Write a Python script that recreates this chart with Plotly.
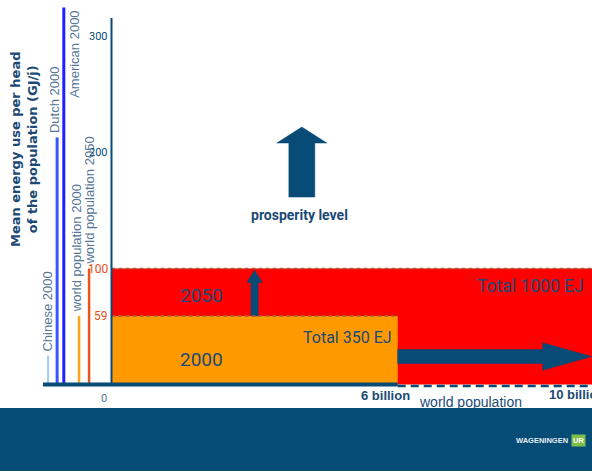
import plotly.graph_objects as go

# --- data -------------------------------------------------------------
categories = ["Chinese 2000", "Dutch 2000", "American 2000",
              "world population 2000", "world population 2050"]
energy_per_head = [25, 213, 325, 59, 100]          # GJ per head per year
population_2000 = 6                                 # billion people
population_2050 = 10                                # billion people
level_2000 = 59                                     # GJ per head, world mean 2000
level_2050 = 100                                    # GJ per head, world mean 2050
total_2000 = "Total 350 EJ"
total_2050 = "Total 1000 EJ"
y_tick_values = [300, 200, 100, 59]
y_tick_labels = ["300", "200", "100", "59"]

# --- layout / styling ---------------------------------------------------
W, H = 592, 471
X_RANGE = [-2.3375, 10.073]
Y_RANGE = [-74.57, 331.5]
line_x = [-1.33, -1.14, -1.0, -0.68, -0.47]        # where the reference lines stand
line_colors = ["#9fcbf5", "#3a55ff", "#2020ff", "#ffa21a", "#e8561a"]
line_widths = [2, 3, 3, 2.5, 2.5]
label_dx = [-1, -2, 10, -3, 0]                      # pixel nudges for the line labels

NAVY = "#074b76"
TEXT_NAVY = "#1b4a75"
GREY_BLUE = "#557696"
TICK_ORANGE = "#e8501a"
RED = "#ff0000"
ORANGE = "#ff9900"
DASH_BROWN = "#a8603c"
NARROW = "Roboto, Liberation Sans, sans-serif"
SANS = "Liberation Sans, Arial, sans-serif"
WIDE = "DejaVu Sans, Verdana, sans-serif"


def block_arrow(x0, y0, x1, y1, shaft_half, head_half, head_len, vertical):
    """Polygon outline of a filled block arrow from (x0, y0) to tip (x1, y1)."""
    if vertical:
        hb = y1 - head_len
        xs = [x0 - shaft_half, x0 - shaft_half, x0 - head_half, x0,
              x0 + head_half, x0 + shaft_half, x0 + shaft_half, x0 - shaft_half]
        ys = [y0, hb, hb, y1, hb, hb, y0, y0]
    else:
        hb = x1 - head_len
        xs = [x0, hb, hb, x1, hb, hb, x0, x0]
        ys = [y0 - shaft_half, y0 - shaft_half, y0 - head_half, y0,
              y0 + head_half, y0 + shaft_half, y0 + shaft_half, y0 - shaft_half]
    return xs, ys


fig = go.Figure()
shapes = []
ann = []

# energy blocks: 2050 (red) behind 2000 (orange)
shapes.append(dict(type="rect", xref="x", yref="y", x0=0, x1=X_RANGE[1],
                   y0=0, y1=level_2050, fillcolor=RED, line_width=0, layer="below"))
shapes.append(dict(type="rect", xref="x", yref="y", x0=0, x1=population_2000,
                   y0=0, y1=level_2000, fillcolor=ORANGE, line_width=0, layer="below"))
# dashed level lines
shapes.append(dict(type="line", xref="x", yref="y", x0=0, x1=X_RANGE[1],
                   y0=level_2050, y1=level_2050,
                   line=dict(color=DASH_BROWN, width=1.5, dash="4px,3px")))
shapes.append(dict(type="line", xref="x", yref="y", x0=0, x1=population_2000,
                   y0=level_2000, y1=level_2000,
                   line=dict(color=DASH_BROWN, width=1.5, dash="4px,3px")))
# vertical axis line
shapes.append(dict(type="line", xref="x", yref="y", x0=0, x1=0, y0=0, y1=316,
                   line=dict(color=NAVY, width=2)))
# baseline: solid up to today's population, dashed to 2050's
shapes.append(dict(type="line", xref="x", yref="y", x0=-1.436, x1=population_2000,
                   y0=0, y1=0, line=dict(color=NAVY, width=4)))
shapes.append(dict(type="line", xref="x", yref="y", x0=population_2000,
                   x1=X_RANGE[1], y0=-1.2, y1=-1.2,
                   line=dict(color=NAVY, width=2.5, dash="8px,5px")))
# bottom banner
shapes.append(dict(type="rect", xref="paper", yref="paper", x0=0, x1=1,
                   y0=0, y1=(H - 408) / H, fillcolor="#054c77", line_width=0,
                   layer="above"))

# reference lines for per-head energy use
for cat, val, lx, col, lw, dx in zip(categories, energy_per_head, line_x,
                                     line_colors, line_widths, label_dx):
    fig.add_trace(go.Scatter(x=[lx, lx], y=[0, val], mode="lines",
                             line=dict(color=col, width=lw), hoverinfo="skip"))
    top_label = cat.startswith("American")
    ann.append(dict(x=lx, y=val, xref="x", yref="y", text=cat, textangle=-90,
                    showarrow=False, xanchor="center",
                    yanchor="top" if top_label else "bottom",
                    xshift=dx, yshift=-1 if top_label else 2,
                    font=dict(family=SANS, size=13, color=GREY_BLUE)))

# arrows
arrow_specs = [
    # horizontal: population growth 6 -> 10 billion
    (population_2000, 24.1, 10.06, 24.1, 6.0, 11.8, 1.02, False),
    # small vertical: level rising 59 -> 100
    (3.0, level_2000, 3.0, 98.5, 0.075, 0.16, 10.5, True),
    # prosperity level
    (3.99, 161.6, 3.99, 222.0, 0.272, 0.524, 13.8, True),
]
for spec in arrow_specs:
    xs, ys = block_arrow(*spec)
    fig.add_trace(go.Scatter(x=xs, y=ys, mode="lines", fill="toself",
                             fillcolor=NAVY, line=dict(color=NAVY, width=0.5),
                             hoverinfo="skip"))

# y tick labels
for v, t in zip(y_tick_values, y_tick_labels):
    orange = v <= level_2050
    ann.append(dict(x=0, y=v, xref="x", yref="y", text=t, showarrow=False,
                    xanchor="right", yanchor="middle", xshift=-2,
                    font=dict(family=NARROW, size=12 if orange else 11,
                              color=TICK_ORANGE if orange else NAVY)))
ann.append(dict(x=0, y=0, xref="x", yref="y", text="0", showarrow=False,
                xanchor="center", yanchor="middle", xshift=-8, yshift=-14,
                font=dict(family=NARROW, size=11, color=GREY_BLUE)))

# axis title
ann.append(dict(x=24 / W, y=1 - 150 / H, xref="paper", yref="paper",
                text="<b>Mean energy use per head<br>of the population (GJ/j)</b>",
                textangle=-90, showarrow=False, xanchor="center", yanchor="middle",
                font=dict(family=WIDE, size=13, color=TEXT_NAVY)))

# block labels
ann += [
    dict(x=1.89, y=76.7, xref="x", yref="y", text="2050", showarrow=False,
         xanchor="center", yanchor="middle",
         font=dict(family=NARROW, size=19, color=TEXT_NAVY)),
    dict(x=1.88, y=21.6, xref="x", yref="y", text="2000", showarrow=False,
         xanchor="center", yanchor="middle",
         font=dict(family=NARROW, size=19, color=TEXT_NAVY)),
    dict(x=population_2000, y=40.5, xref="x", yref="y", text=total_2000,
         showarrow=False, xanchor="right", yanchor="middle", xshift=-4,
         font=dict(family=NARROW, size=16, color=TEXT_NAVY)),
    dict(x=X_RANGE[1], y=85.3, xref="x", yref="y", text=total_2050,
         showarrow=False, xanchor="right", yanchor="middle", xshift=-6,
         font=dict(family=NARROW, size=17.5, color=TEXT_NAVY)),
    dict(x=3.94, y=146, xref="x", yref="y", text="<b>prosperity level</b>",
         showarrow=False, xanchor="center", yanchor="middle",
         font=dict(family=NARROW, size=14, color=TEXT_NAVY)),
    dict(x=population_2000, y=-9.5, xref="x", yref="y",
         text="<b>%d billion</b>" % population_2000, showarrow=False,
         xanchor="right", yanchor="middle", xshift=14,
         font=dict(family=SANS, size=13, color=TEXT_NAVY)),
    dict(x=X_RANGE[1], y=-8.5, xref="x", yref="y",
         text="<b>%d billion</b>" % population_2050, showarrow=False,
         xanchor="left", yanchor="middle", xshift=-45,
         font=dict(family=SANS, size=13, color=TEXT_NAVY)),
    dict(x=470 / W, y=1 - 402 / H, xref="paper", yref="paper",
         text="world population", showarrow=False,
         xanchor="center", yanchor="middle",
         font=dict(family=SANS, size=14, color=TEXT_NAVY)),
    # logo in the banner
    dict(x=570 / W, y=1 - 440 / H, xref="paper", yref="paper",
         text="<b>WAGENINGEN</b>", showarrow=False, xanchor="right",
         yanchor="middle",
         font=dict(family=SANS, size=7.5, color="#e8eef3")),
    dict(x=571 / W, y=1 - 440 / H, xref="paper", yref="paper",
         text="<b>UR</b>", showarrow=False, xanchor="left", yanchor="middle",
         bgcolor="#7dbf48", borderpad=1,
         font=dict(family=SANS, size=7.5, color="#ffffff")),
]

fig.update_layout(
    width=W, height=H, margin=dict(l=0, r=0, t=0, b=0),
    paper_bgcolor="white", plot_bgcolor="white", showlegend=False,
    xaxis=dict(range=X_RANGE, visible=False, fixedrange=True),
    yaxis=dict(range=Y_RANGE, visible=False, fixedrange=True),
    shapes=shapes, annotations=ann,
)

fig.write_html("out.html")
